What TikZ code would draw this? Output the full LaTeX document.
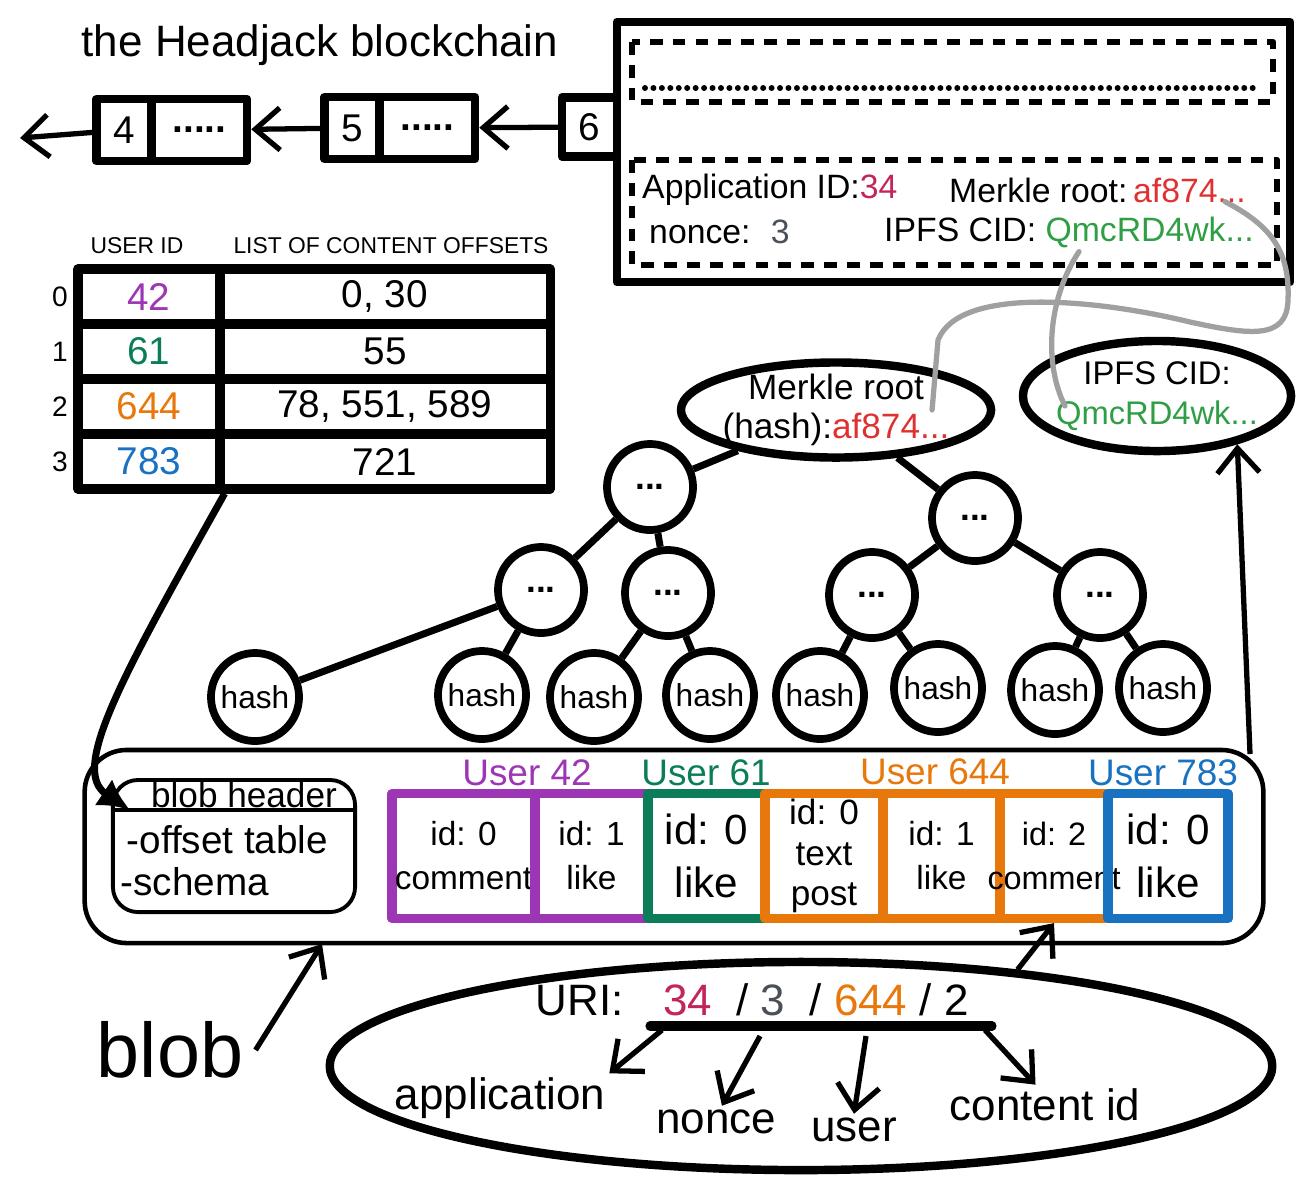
\documentclass[tikz,border=0pt]{standalone}
\usepackage{fontspec}
\setmainfont{Liberation Sans}
\usepackage{xcolor}
\usetikzlibrary{shapes.geometric}
\usetikzlibrary{arrows.meta}

\definecolor{appred}{HTML}{C2255C}
\definecolor{hashred}{HTML}{E03131}
\definecolor{cidgreen}{HTML}{2F9E44}
\definecolor{noncegray}{HTML}{495057}
\definecolor{upurple}{HTML}{9C36B5}
\definecolor{ugreen}{HTML}{0B7D59}
\definecolor{uorange}{HTML}{E8770C}
\definecolor{ublue}{HTML}{1971C2}
\definecolor{linkgray}{HTML}{A0A0A0}

\begin{document}
\begin{tikzpicture}[x=0.01cm, y=-0.01cm, line join=round,
		>={Straight Barb[length=7pt,width=12pt]},
		block/.style={draw, line width=2.4pt, minimum height=0.62cm, inner sep=0pt, font=\fontsize{11}{13}\selectfont},
		hdash/.style={line width=1.8pt, dash pattern=on 3.6pt off 2.9pt},
		htext/.style={inner sep=1pt, font=\fontsize{9.6}{12}\selectfont},
		small/.style={font=\fontsize{6.5}{8}\selectfont},
		cell/.style={draw, line width=2.6pt, minimum height=0.55cm, inner sep=0pt, font=\fontsize{11}{13}\selectfont},
		oval/.style={draw, ellipse, line width=2.4pt, inner sep=0pt},
		tnode/.style={draw, circle, line width=2.2pt, minimum size=0.86cm, inner sep=0pt, font=\fontsize{10}{12}\selectfont\bfseries},
		hnode/.style={draw, circle, line width=2.2pt, minimum size=0.88cm, inner sep=0pt, font=\fontsize{9}{11}\selectfont},
		tedge/.style={line width=2pt},
		cbox/.style={draw, line width=2.6pt, minimum height=1.25cm, inner sep=0pt, align=center},
		ulbl/.style={font=\fontsize{10.5}{12}\selectfont},
		urilbl/.style={inner sep=1pt, font=\fontsize{12.5}{14}\selectfont},
		chain/.style={->, line width=1.5pt},
		uarr/.style={->, line width=1.5pt}]

	\useasboundingbox (0,0) rectangle (1310,1187);

	% Blockchain
	\node[font=\fontsize{12.5}{15}\selectfont] (title) at (320,45) {the Headjack blockchain};

	\node[block, minimum width=0.55cm] (b4) at (124,130) {4};
	\node[block, minimum width=0.95cm] (b4d) at (199.5,130) {\textbf{.....}};
	\node[block, minimum width=0.55cm] (b5) at (352,128) {5};
	\node[block, minimum width=0.95cm] (b5d) at (427.5,128) {\textbf{.....}};
	\node[block, minimum width=0.55cm, minimum height=0.59cm] (b6) at (589.5,127) {6};
	\node[block, minimum width=6.73cm, minimum height=2.6cm] (hdr) at (953.5,152) {};
	\coordinate (chainend) at (20,138);

	\draw[chain] (b6) -- (b5d);
	\draw[chain] (b5) -- (b4d);
	\draw[chain] (b4) -- (chainend);

	% Block 6 contents
	\draw[hdash] (632,42) rectangle (1273,102);
	\draw[line width=1.7pt, line cap=round, dash pattern=on 0pt off 2.4pt] (645,88) -- (1258,88);
	\draw[hdash] (632,160) rectangle (1277,265);

	\node[htext, anchor=west] (happ) at (638,190) {Application ID:\textcolor{appred}{34}};
	\node[htext, anchor=west] (hmroot) at (945,190) {Merkle root:\,\textcolor{hashred}{af874...}};
	\node[htext, anchor=west] (hnonce) at (645,232) {nonce:\hspace{0.6em}\textcolor{noncegray}{3}};
	\node[htext, anchor=west] (hcid) at (880,232) {IPFS CID: \textcolor{cidgreen}{QmcRD4wk...}};

	% Offset table
	\node[small] (uidhead) at (137,246) {USER ID};
	\node[small] (offhead) at (391,246) {LIST OF CONTENT OFFSETS};
	\foreach \i/\y/\uid/\ucol/\offs in {0/296.5/42/upurple/{0, 30}, 1/351.5/61/ugreen/55, 2/406.5/644/uorange/{78, 551, 589}, 3/461.5/783/ublue/721}{
		\node[small, font=\fontsize{8}{9}\selectfont] (row\i) at (60,\y) {\i};
		\node[cell, minimum width=1.42cm, text=\ucol] (uid\i) at (149,\y) {\uid};
		\node[cell, minimum width=3.3cm] (offs\i) at (385,\y) {\offs};
	}

	% Merkle tree
	\node[oval, minimum width=3.1cm, minimum height=0.95cm] (mroot) at (836,410) {};
	\node[align=center, font=\fontsize{10}{11}\selectfont] (mroottxt) at (mroot) {Merkle root\\(hash):\textcolor{hashred}{af874...}};
	\node[oval, minimum width=2.68cm, minimum height=1.1cm] (ipfs) at (1157,396) {};
	\node[align=center, font=\fontsize{9.3}{11.5}\selectfont] (ipfstxt) at (ipfs) {IPFS CID:\\\textcolor{cidgreen}{QmcRD4wk...}};

	\node[tnode] (n1) at (650,487) {...};
	\node[tnode] (n2) at (975,518) {...};
	\node[tnode] (n3) at (541,590) {...};
	\node[tnode] (n4) at (668,593) {...};
	\node[tnode] (n5) at (872,595) {...};
	\node[tnode] (n6) at (1100,595) {...};

	\node[hnode] (h1) at (255,697) {hash};
	\node[hnode] (h2) at (482,695) {hash};
	\node[hnode] (h3) at (594,697) {hash};
	\node[hnode] (h4) at (710,695) {hash};
	\node[hnode] (h5) at (820,695) {hash};
	\node[hnode] (h6) at (938,688) {hash};
	\node[hnode] (h7) at (1055,690) {hash};
	\node[hnode] (h8) at (1163,688) {hash};

	\draw[tedge] (mroot) -- (n1);
	\draw[tedge] (mroot) -- (n2);
	\draw[tedge] (n1) -- (n3);
	\draw[tedge] (n1) -- (n4);
	\draw[tedge] (n2) -- (n5);
	\draw[tedge] (n2) -- (n6);
	\draw[tedge] (n3) -- (h1);
	\draw[tedge] (n3) -- (h2);
	\draw[tedge] (n4) -- (h3);
	\draw[tedge] (n4) -- (h4);
	\draw[tedge] (n5) -- (h5);
	\draw[tedge] (n5) -- (h6);
	\draw[tedge] (n6) -- (h7);
	\draw[tedge] (n6) -- (h8);

	% Gray links
	\draw[linkgray, line width=1.5pt, line cap=round] ([xshift=-0.25cm,yshift=0.05cm]hmroot.south east)
		.. controls (1270,225) and (1290,250) .. (1288,300)
		.. controls (1287,340) and (1250,335) .. (1190,322)
		.. controls (1100,300) and (960,285) .. (938,340)
		-- ([xshift=0.96cm]mroot.center);
	\draw[linkgray, line width=1.5pt, line cap=round] ([xshift=0.1cm]hcid.south)
		.. controls (1050,295) and (1042,360) .. ([xshift=-0.92cm,yshift=-0.1cm]ipfs.center);

	% Blob
	\node[draw, rounded corners=0.42cm, line width=1.3pt, minimum width=11.78cm, minimum height=1.93cm] (blob) at (674,846.5) {};
	\node[draw, rounded corners=0.25cm, line width=1.1pt, minimum width=2.42cm, minimum height=1.32cm] (bhdr) at (234,846) {};
	\node[font=\fontsize{10}{12}\selectfont] (bhdrtitle) at (244,795) {blob header};
	\draw[line width=1.1pt] (113,810) -- (355,810);
	\node[anchor=west, inner sep=0pt, font=\fontsize{11}{13}\selectfont] (bhoff) at (126,840) {-offset table};
	\node[anchor=west, inner sep=0pt, font=\fontsize{11}{13}\selectfont] (bhschema) at (120,882) {-schema};

	\node[cbox, draw=upurple, minimum width=1.43cm, font=\fontsize{9.5}{12.5}\selectfont] (c1) at (463.5,856) {id: 0\\comment};
	\node[cbox, draw=upurple, minimum width=1.13cm, font=\fontsize{9.5}{12.5}\selectfont] (c2) at (591.5,856) {id: 1\\like};
	\node[cbox, draw=ugreen, minimum width=1.17cm, font=\fontsize{12}{15}\selectfont] (c3) at (706.5,856) {id: 0\\like};
	\node[cbox, draw=uorange, minimum width=1.18cm, font=\fontsize{10}{11.6}\selectfont] (c4) at (824,856) {id: 0\\text\\post};
	\node[cbox, draw=uorange, minimum width=1.17cm, font=\fontsize{9.5}{12.5}\selectfont] (c5) at (941.5,856) {id: 1\\like};
	\node[cbox, draw=uorange, minimum width=1.08cm, font=\fontsize{9.2}{12.5}\selectfont] (c6) at (1054,856) {id: 2\\\makebox[0pt]{comment}};
	\node[cbox, draw=ublue, minimum width=1.2cm, font=\fontsize{12}{15}\selectfont] (c7) at (1168,856) {id: 0\\like};

	\node[ulbl, text=upurple] (user42) at (527,773) {User 42};
	\node[ulbl, text=ugreen] (user61) at (706,773) {User 61};
	\node[ulbl, text=uorange] (user644) at (935,772) {User 644};
	\node[ulbl, text=ublue] (user783) at (1163,773) {User 783};

	\coordinate (hdrin) at (130,810);
	\draw[line width=2pt, -{Latex[length=9pt,width=9pt]}] (uid3.south east) .. controls (120,680) and (70,770) .. (hdrin);

	\coordinate (blobne) at (1250,754);
	\draw[uarr] (blobne) -- (ipfs.-31);

	\node[font=\fontsize{22}{26}\selectfont] (bloblbl) at (170,1050) {blob};
	\coordinate (blobbot) at (322,944);
	\draw[uarr] (bloblbl.east) -- (blobbot);

	% URI
	\node[oval, minimum width=9.42cm, minimum height=2.08cm] (uri) at (801,1066) {};
	\node[urilbl] (uritxt) at (752,1000) {URI:\hspace{0.9em}\textcolor{appred}{34}\ \ /\ \textcolor{noncegray}{3}\ \ /\ \textcolor{uorange}{644}\ /\ 2};
	\draw[line width=2.6pt, line cap=round] (650,1026) -- (992,1026);
	\coordinate (ua) at (662,1030);
	\coordinate (ub) at (760,1036);
	\coordinate (uc) at (866,1036);
	\coordinate (ud) at (985,1030);

	\node[urilbl] (appl) at (500,1098) {application};
	\node[urilbl] (nonce) at (716,1122) {nonce};
	\node[urilbl] (user) at (854,1130) {user};
	\node[urilbl] (contid) at (1045,1105) {content id};

	\draw[uarr] (ua) -- (appl.north east);
	\draw[uarr] (ub) -- (nonce.70);
	\draw[uarr] (uc) -- (user.north);
	\draw[uarr] (ud) -- (contid.115);
	\draw[uarr] (uri.24) -- (c6.south);

\end{tikzpicture}
\end{document}
